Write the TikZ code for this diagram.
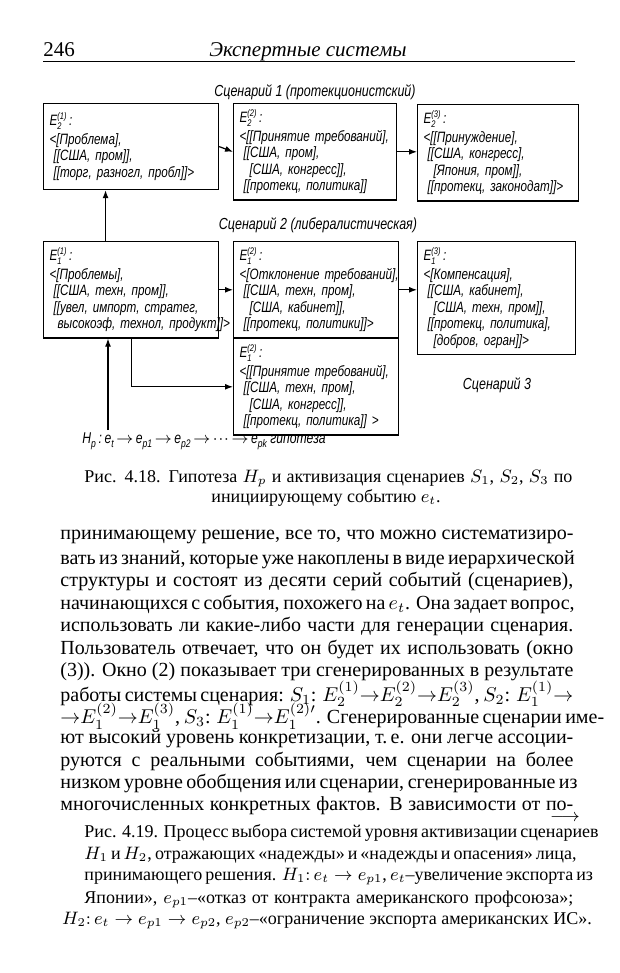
\documentclass[tikz,border=0pt]{standalone}
\usepackage{fontspec}
\setmainfont{Liberation Serif}
\newfontfamily\handfont[FakeStretch=0.78,ItalicFeatures={FakeStretch=0.78}]{Liberation Sans}
\usetikzlibrary{arrows.meta,calc}
\newcommand{\evfont}{\handfont\itshape\fontsize{7.5}{8.3}\selectfont}
\newcommand{\scfont}{\handfont\itshape\fontsize{8}{9}\selectfont}
\newcommand{\bodyfont}{\fontsize{10}{12}\selectfont}
\newcommand{\capfont}{\fontsize{9}{11}\selectfont}
\newcommand{\Ev}[2]{E\rlap{\raisebox{-0.45ex}{\fontsize{4.8}{5}\selectfont #1}}\raisebox{0.75ex}{\fontsize{4.8}{5}\selectfont(#2)}\,:}
\newcommand{\lo}[1]{\raisebox{-0.5ex}{\fontsize{5.5}{5}\selectfont #1}}
\newcommand{\evln}[2][0]{\mbox{\hspace*{#1pt}#2}}
\newcommand{\rarr}{{\to}}
\tikzset{
  evbox/.style   ={draw,line width=0.6pt,anchor=north west,align=left,
                   inner sep=3pt,font=\evfont},
  sctitle/.style ={font=\scfont,inner sep=1pt},
  bodyline/.style={anchor=west,inner sep=0pt,font=\bodyfont},
  capline/.style ={anchor=west,inner sep=0pt,font=\capfont},
  ar/.style      ={-{Latex[length=4pt,width=3pt]},line width=0.6pt},
}

\begin{document}
\begin{tikzpicture}[x=0.5pt,y=-0.5pt]
\useasboundingbox (0,0) rectangle (620,973);
\fill[white] (0,0) rectangle (620,973);
% running head
\node[anchor=base west,inner sep=0pt,font=\fontsize{10.5}{12}\selectfont] (pg) at (43,57) {246};
\node[anchor=base,inner sep=0pt,font=\itshape\fontsize{10.5}{12}\selectfont] (hd) at (308,57) {Экспертные системы};
\draw[line width=0.5pt] (43,62) -- (575,62);

% scenario 1
\node[sctitle] (sc1) at (315,92) {Сценарий 1 (протекционистский)};
\node[evbox,text width=81.5pt,minimum height=43pt] (E21) at (43,103)
  {\Ev{2}{1}\\[1pt] \evln{<[Проблема],}\\ \evln[2]{[[США, пром]],}\\ \evln[2]{[[торг, разногл, пробл]]>}};
\node[evbox,text width=75.5pt,minimum height=43pt] (E22) at (233,103)
  {\Ev{2}{2}\\[1pt] \evln{<[[Принятие требований],}\\ \evln[2]{[[США, пром],}\\ \evln[5]{[США, конгресс]],}\\ \evln[2]{[[протекц, политика]]}};
\node[evbox,text width=74.5pt,minimum height=46pt] (E23) at (417,104)
  {\Ev{2}{3}\\[1pt] \evln{<[[Принуждение],}\\ \evln[2]{[[США, конгресс],}\\ \evln[5]{[Япония, пром]],}\\ \evln[2]{[[протекц, законодат]]>}};

% scenario 2
\node[sctitle] (sc2) at (318,225) {Сценарий 2 (либералистическая)};
\node[evbox,text width=81.5pt,minimum height=44.5pt] (E11) at (43,241)
  {\Ev{1}{1}\\[1pt] \evln{<[Проблемы],}\\ \evln[2]{[[США, техн, пром]],}\\ \evln[2]{[[увел, импорт, стратег,}\\ \evln[4]{высокоэф, технол, продукт]]>}};
\node[evbox,text width=76.5pt,minimum height=42.5pt] (E12) at (233,241)
  {\Ev{1}{2}\\[1pt] \evln{<[Отклонение требований],}\\ \evln[2]{[[США, техн, пром],}\\ \evln[5]{[США, кабинет]],}\\ \evln[2]{[[протекц, политики]]>}};
\node[evbox,text width=73pt,minimum height=45pt] (E13) at (417,241)
  {\Ev{1}{3}\\[1pt] \evln{<[Компенсация],}\\ \evln[2]{[[США, кабинет],}\\ \evln[5]{[США, техн, пром]],}\\ \evln[2]{[[протекц, политика],}\\ \evln[5]{[добров, огран]]>}};

% scenario 3
\node[evbox,text width=76.5pt,minimum height=40pt] (E12p) at (233,338)
  {\Ev{1}{2}\\[1pt] \evln{<[[Принятие требований],}\\ \evln[2]{[[США, техн, пром],}\\ \evln[5]{[США, конгресс]],}\\ \evln[2]{[[протекц, политика]] >}};
\node[sctitle] (sc3) at (497,385) {Сценарий 3};

% hypothesis
\node[anchor=west,inner sep=0pt,font=\handfont\itshape\fontsize{7.8}{9}\selectfont] (Hp) at (82,441)
  {H\lo{p}\,:\,e\lo{t}\,$\to$\,e\lo{p1}\,$\to$\,e\lo{p2}\,$\to$\,$\cdot\!\cdot\!\cdot$\,$\to$\,e\lo{pk}\ гипотеза};
\coordinate (hpTop) at ($(Hp.north west)+(26,-2)$);

% connectors
\draw[ar] (E21.east) -- (E22.west);
\draw[ar] (E22.east) -- (E22.east -| E23.west);
\draw[ar] (E11.east) -- (E11.east -| E12.west);
\draw[ar] (E12.east) -- (E12.east -| E13.west);
\draw[ar] ($(E11.north west)!0.355!(E11.north east)$) -- ($(E21.south west)!0.355!(E21.south east)$);
\draw[ar] (hpTop) -- (hpTop |- E11.south);
\draw[ar] (E11.south) |- (E12p.west);

% caption 4.18
\node[capline] (cap1a) at (84,479) {\hbox to 244pt{Рис. 4.18. Гипотеза $H_p$ и активизация сценариев $S_1$, $S_2$, $S_3$ по}};
\node[font=\capfont,inner sep=0pt] (cap1b) at (326,498) {инициирующему событию $e_t$.};

% body text
\foreach \txt [count=\i] in {
 {принимающему решение, все то, что можно систематизиро-},
 {вать из знаний, которые уже накоплены в виде иерархической},
 {структуры и состоят из десяти серий событий (сценариев),},
 {начинающихся с события, похожего на $e_t$. Она задает вопрос,},
 {использовать ли какие-либо части для генерации сценария.},
 {Пользователь отвечает, что он будет их использовать (окно},
 {(3)). Окно (2) показывает три сгенерированных в результате},
 {работы системы сценария: $S_1$: $E_2^{(1)}\rarr E_2^{(2)}\rarr E_2^{(3)}$, $S_2$: $E_1^{(1)}\rarr$},
 {$\rarr E_1^{(2)}\rarr E_1^{(3)}$, $S_3$: $E_1^{(1)}\rarr E_1^{(2)\prime}$. Сгенерированные сценарии име-},
 {ют высокий уровень конкретизации, т.\,е. они легче ассоции-},
 {руются с реальными событиями, чем сценарии на более},
 {низком уровне обобщения или сценарии, сгенерированные из},
 {многочисленных конкретных фактов. В зависимости от по-}}
  \node[bodyline] (body\i) at (60,{537+22.4*(\i-1)}) {\hbox to 256.5pt{\txt}};

% caption 4.19
\node[font=\capfont,inner sep=0pt] (capArr) at (565,818) {$\longrightarrow$};
\foreach \txt [count=\i] in {
 {Рис. 4.19. Процесс выбора системой уровня активизации сценариев},
 {$H_1$ и $H_2$, отражающих «надежды» и «надежды и опасения» лица,},
 {принимающего решения. $H_1\colon e_t\to e_{p1}$, $e_t$–увеличение экспорта из},
 {Японии», $e_{p1}$–«отказ от контракта американского профсоюза»;}}
  \node[capline] (cap2\i) at (84,{833+22*(\i-1)}) {\hbox to 244.5pt{\txt}};
\node[font=\capfont,inner sep=0pt] (cap25) at (327,921)
  {$H_2\colon e_t\to e_{p1}\to e_{p2}$, $e_{p2}$–«ограничение экспорта американских ИС».};
\end{tikzpicture}
\end{document}
